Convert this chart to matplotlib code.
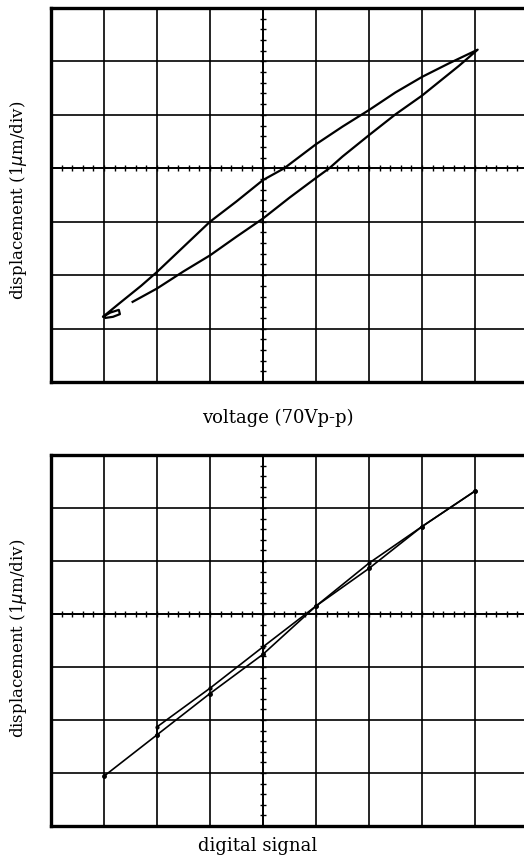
import matplotlib
matplotlib.use("Agg")
from matplotlib import pyplot as plt
import numpy as np

# hysteresis loop, 70 Vp-p drive (divisions)
up_x = [-3.02, -2.7, -2.3, -2.0, -1.5, -1.0, -0.5, 0.0, 0.4, 1.0, 1.5, 2.0,
        2.5, 3.0, 3.5, 4.05]
up_y = [-2.78, -2.52, -2.20, -1.94, -1.47, -1.00, -0.62, -0.22, 0.00, 0.45,
        0.78, 1.09, 1.42, 1.71, 1.96, 2.22]
dn_x = [4.05, 3.7, 3.3, 3.0, 2.5, 2.0, 1.5, 1.25, 1.0, 0.5, 0.0, -0.5, -1.0,
        -1.5, -2.0, -2.46]
dn_y = [2.22, 1.92, 1.60, 1.36, 1.01, 0.62, 0.22, 0.00, -0.18, -0.55, -0.94,
        -1.28, -1.63, -1.93, -2.25, -2.50]
curl_x = [-3.02, -2.88, -2.72, -2.70, -2.83, -2.97]
curl_y = [-2.78, -2.70, -2.65, -2.73, -2.78, -2.80]

# digital signal steps
fw_x = [-3, -2, -1, 0, 1, 2, 3, 4]
fw_y = [-3.06, -2.28, -1.50, -0.76, 0.15, 0.86, 1.65, 2.32]
bw_x = [4, 3, 2, 1, 0, -1, -2, -2]
bw_y = [2.32, 1.65, 0.96, 0.15, -0.62, -1.40, -2.13, -2.28]

ylab = "displacement (1$\\mu$m/div)"
fnt = "DejaVu Serif"

fig = plt.figure(figsize=(5.24, 8.64), dpi=100)


def scope(ax):
    ax.set_xlim(-4, 5)
    ax.set_ylim(-4, 3)
    ax.set_xticks(range(-3, 5))
    ax.set_yticks(range(-3, 3))
    ax.tick_params(length=0, labelbottom=False, labelleft=False)
    ax.grid(True, color="black", lw=1.2)
    for s in ["left", "top", "bottom"]:
        ax.spines[s].set_linewidth(2.4)
    ax.spines["right"].set_visible(False)
    ax.axhline(0, color="black", lw=1.3)
    ax.axvline(0, color="black", lw=1.3)
    sub = np.arange(-3.8, 5, 0.2)
    ax.plot(sub, np.zeros_like(sub), ls="none", marker="|", ms=4.5, mew=1.0, color="black")
    sub = np.arange(-3.8, 3, 0.2)
    ax.plot(np.zeros_like(sub), sub, ls="none", marker="_", ms=4.5, mew=1.0, color="black")


ax1 = fig.add_axes([51 / 524, 1 - 382 / 864, 477 / 524, 374 / 864])
scope(ax1)
ax1.plot(dn_x[::-1] + up_x[::-1][1:] + curl_x[1:],
         dn_y[::-1] + up_y[::-1][1:] + curl_y[1:],
         color="black", lw=1.6)

ax2 = fig.add_axes([51 / 524, 1 - 826 / 864, 477 / 524, 371 / 864])
scope(ax2)
ax2.plot(fw_x, fw_y, color="black", lw=1.2, marker="o", ms=2.5)
ax2.plot(bw_x, bw_y, color="black", lw=1.2, marker="o", ms=2.0)

fig.text(278 / 524, 1 - 418 / 864, "voltage (70Vp-p)", ha="center", va="center",
         family=fnt, fontsize=13)
fig.text(258 / 524, 1 - 846 / 864, "digital signal", ha="center", va="center",
         family=fnt, fontsize=13)
fig.text(19 / 524, 1 - 200 / 864, ylab, ha="center", va="center", rotation=90,
         family=fnt, fontsize=12)
fig.text(19 / 524, 1 - 638 / 864, ylab, ha="center", va="center", rotation=90,
         family=fnt, fontsize=12)

fig.savefig("out.png", dpi=100)
